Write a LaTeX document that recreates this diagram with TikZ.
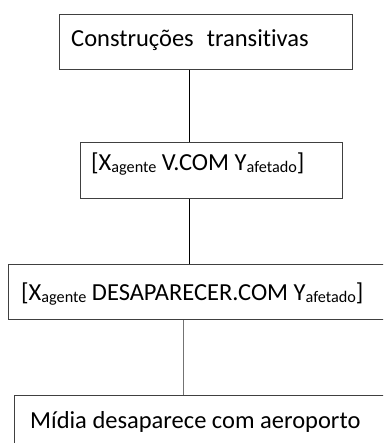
\documentclass[tikz,border=0pt]{standalone}
\usepackage{fontspec}
\setmainfont{Carlito}[Ligatures=NoCommon]
\newcommand\sbx[1]{\raisebox{-2pt}{\fontsize{16.2}{17}\selectfont #1}}
\begin{document}
\begin{tikzpicture}[x=1pt,y=-1pt,
  box/.style={draw=black!75, line width=1pt, rectangle, inner sep=0, anchor=north west},
  txt/.style={anchor=base west, inner sep=0, font=\fontsize{24.5}{28}\selectfont},
  link/.style={draw=black, line width=1pt}]
\useasboundingbox (0,0) rectangle (383,443);
\clip (0,0) rectangle (383,443);
\fill[white] (0,0) rectangle (383,443);
% boxes
\node[box, minimum width=293pt, minimum height=55pt] (b1) at (59,14) {};
\node[box, minimum width=262pt, minimum height=56pt] (b2) at (80,142) {};
\node[box, minimum width=400pt, minimum height=55pt] (b3) at (8,264) {};
\node[box, minimum width=400pt, minimum height=80pt] (b4) at (14,395) {};
% texts
\node[txt] (t1) at (71,47) {Construções\hspace{13pt}transitivas};
\node[txt] (t2) at (91,171) {[X\sbx{agente} V.COM Y\sbx{afetado}]};
\node[txt] (t3) at (21,300) {[X\sbx{agente} DESAPARECER.COM Y\sbx{afetado}]};
\node[txt] (t4) at (30,428) {Mídia desaparece com aeroporto};
% connectors
\coordinate (c1) at (189,0);
\coordinate (c3) at (183,0);
\draw[link] (b1.south -| c1) -- (b2.north -| c1);
\draw[link] (b2.south -| c1) -- (b3.north -| c1);
\draw[link, draw=black!55] (b3.south -| c3) -- (b4.north -| c3);
\end{tikzpicture}
\end{document}
